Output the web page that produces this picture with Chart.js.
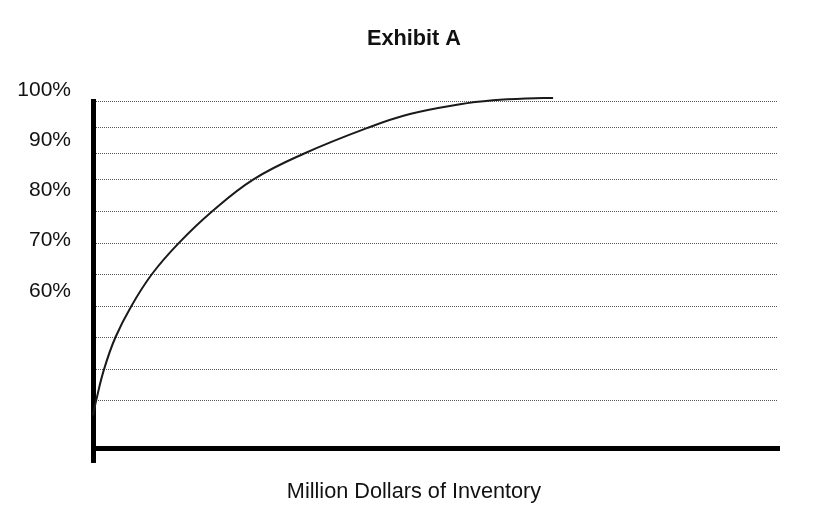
<!DOCTYPE html>
<html>
<head>
<meta charset="utf-8">
<title>Exhibit A</title>
<script src="https://cdn.jsdelivr.net/npm/chart.js@4.4.1/dist/chart.umd.min.js"></script>
<style>
  html, body { margin: 0; padding: 0; background: #fff; }
  #wrap { width: 840px; height: 531px; }
</style>
</head>
<body>
<div id="wrap"><canvas id="exhibit"></canvas></div>
<script>
// curve (x: million dollars, y: percent)
var inventory = [0, 0.07, 0.24, 0.49, 0.83, 1.29, 1.88, 2.61, 3.52, 4.62, 6.02, 6.95, 8.05, 8.77, 9.51, 10.09];
var coverage = [37.4, 40.4, 46.5, 52.9, 59.0, 65.5, 71.7, 78.0, 84.4, 89.5, 94.65, 97.4, 99.35, 100.14, 100.53, 100.6];

var labelTicks = [60, 70, 80, 90, 100];
var gridLevels = [100, 94.65, 89.5, 84.36, 78.0, 71.7, 65.5, 59.0, 52.9, 46.5, 40.4];

var yMin = 30.7;
var yMax = 100;

(function() {
    "use strict";

    Chart.defaults.font.family = "'Liberation Sans', Arial, sans-serif";
    Chart.defaults.color = '#111';

    var points = inventory.map(function(x, i) {
        return { x: x, y: coverage[i] };
    });

    new Chart(document.getElementById('exhibit'), {
        type: 'line',
        data: {
            datasets: [{
                data: points,
                borderColor: '#1a1a1a',
                borderWidth: 2,
                pointRadius: 0,
                tension: 0.4,
                clip: false,
                yAxisID: 'y',
            }]
        },
        options: {
            responsive: true,
            maintainAspectRatio: false,
            animation: false,
            layout: {
                padding: { left: 18, right: 30, top: 0, bottom: 0 },
            },
            plugins: {
                legend: { display: false },
                tooltip: { enabled: false },
                title: {
                    display: true,
                    text: 'Exhibit A',
                    font: { size: 21.7, weight: 'bold' },
                    padding: { top: 26, bottom: 49 },
                },
                subtitle: {
                    display: true,
                    position: 'bottom',
                    text: 'Million Dollars of Inventory',
                    font: { size: 21.7 },
                    padding: { top: 16, bottom: 26 },
                },
            },
            scales: {
                x: {
                    type: 'linear',
                    min: 0,
                    max: 15,
                    afterBuildTicks: function(scale) {
                        scale.ticks = [{ value: 0 }];
                    },
                    ticks: { display: false },
                    grid: {
                        drawOnChartArea: false,
                        drawTicks: true,
                        tickLength: 14,
                        tickWidth: 5,
                        tickColor: '#000',
                        lineWidth: 5,
                        color: '#000',
                    },
                    border: { display: true, width: 5, color: '#000' },
                },
                y: {
                    type: 'linear',
                    position: 'left',
                    weight: 0,
                    min: yMin,
                    max: yMax,
                    afterBuildTicks: function(scale) {
                        scale.ticks = gridLevels.map(function(v) { return { value: v }; });
                    },
                    afterFit: function(scale) {
                        scale.width = 0;
                    },
                    ticks: { display: false },
                    grid: {
                        drawTicks: false,
                        color: '#555',
                        lineWidth: 1,
                    },
                    border: { display: true, width: 5, color: '#000', dash: [1, 1] },
                },
                yl: {
                    type: 'linear',
                    axis: 'y',
                    position: 'left',
                    weight: 1,
                    min: yMin,
                    max: yMax,
                    afterBuildTicks: function(scale) {
                        scale.ticks = labelTicks.map(function(v) { return { value: v }; });
                    },
                    afterFit: function(scale) {
                        scale.width = 75;
                    },
                    ticks: {
                        padding: 22,
                        labelOffset: -11,
                        font: { size: 21 },
                        color: '#111',
                        callback: function(v) { return v + '%'; },
                    },
                    grid: { display: false, drawTicks: false },
                    border: { display: false },
                },
                yr: {
                    type: 'linear',
                    axis: 'y',
                    position: 'right',
                    ticks: { display: false },
                    grid: { display: false, drawTicks: false },
                    border: { display: false },
                    afterFit: function(scale) {
                        scale.width = 33;
                    },
                },
            },
        },
    });
})();
</script>
</body>
</html>
